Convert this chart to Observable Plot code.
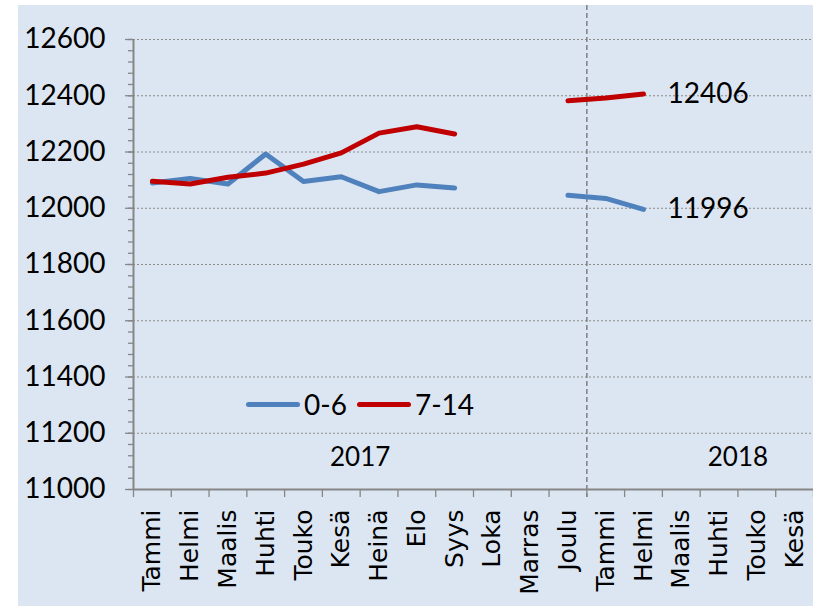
<!DOCTYPE html>
<html><head><meta charset="utf-8">
<script src="https://cdn.jsdelivr.net/npm/d3@7"></script>
<script src="https://cdn.jsdelivr.net/npm/@observablehq/plot@0.6"></script>
<style>
body{margin:0;background:#fff;}
#wrap{position:relative;width:813px;height:606px;overflow:hidden;}
#bg{position:absolute;left:18px;top:5px;width:795px;height:601px;background:#dce6f2;}
#chart{position:absolute;left:0;top:0;}
.legend{position:absolute;left:246px;top:387px;height:34px;display:flex;align-items:center;font-family:Lato,sans-serif;font-size:28px;color:#000;white-space:nowrap;}
.sw{width:54px;height:5px;border-radius:3px;display:inline-block;margin-right:4px;}
</style></head><body>
<div id="wrap"><div id="bg"></div><div id="chart"></div><div class="legend" id="legend"></div></div>
<script>
const months = ["Tammi","Helmi","Maalis","Huhti","Touko","Kesä","Heinä","Elo","Syys","Loka","Marras","Joulu","Tammi","Helmi","Maalis","Huhti","Touko","Kesä"];
const years = ["2017","2018"];
const seriesNames = ["0-6","7-14"];
const values0_6 = [12090,12106,12086,12193,12095,12112,12059,12083,12072,null,null,12046,12035,11996,null,null,null,null];
const values7_14 = [12096,12086,12110,12125,12157,12197,12267,12290,12264,null,null,12382,12392,12406,null,null,null,null];
const colors = ["#4f81bd","#c00000"];
const yTicks = d3.range(11000, 12601, 200);
const yMinor = d3.range(11000, 12601, 40);

const rows = [];
months.forEach((m, i) => {
  rows.push({i, month: m, series: seriesNames[0], value: values0_6[i]});
  rows.push({i, month: m, series: seriesNames[1], value: values7_14[i]});
});
const lastPoints = seriesNames.map(s => {
  const r = rows.filter(d => d.series === s && d.value != null);
  return r[r.length - 1];
});

const chart = Plot.plot({
  width: 813,
  height: 606,
  marginLeft: 133,
  marginRight: 0,
  marginTop: 39,
  marginBottom: 117,
  style: {background: "transparent", color: "#000", fontFamily: "Lato, sans-serif"},
  x: {type: "linear", domain: [0, months.length], label: null},
  y: {domain: [11000, 12600], label: null},
  color: {domain: seriesNames, range: colors},
  marks: [
    Plot.gridY(yTicks.slice(1), {stroke: "#8c8c8c", strokeOpacity: 1, strokeDasharray: "2,2"}),
    Plot.ruleX([12], {stroke: "#7f7f7f", strokeWidth: 1.5, strokeDasharray: "5,3", insetTop: -34, insetBottom: -8}),
    Plot.axisY(yMinor, {tickSize: 5, tickFormat: () => "", label: null, stroke: "#868686", strokeWidth: 1.3}),
    Plot.axisY(yTicks, {tickSize: 8, tickPadding: 20, label: null, stroke: "#868686", strokeWidth: 1.3, fontSize: 28, fontFamily: "Lato, sans-serif", tickFormat: d => String(d)}),
    Plot.axisX(d3.range(0, months.length + 1), {tickSize: 8, tickFormat: () => "", label: null, stroke: "#868686", strokeWidth: 1.3}),
    Plot.ruleY([11000], {stroke: "#868686", strokeWidth: 2}),
    Plot.ruleX([0], {stroke: "#868686", strokeWidth: 2}),
    Plot.text(months, {x: (d, i) => i + 0.5, frameAnchor: "bottom", rotate: -90, textAnchor: "end", lineAnchor: "middle", dy: 20, fontSize: 25, fontFamily: "DejaVu Sans", fill: "#000"}),
    Plot.text(years, {x: (d, i) => i === 0 ? 6 : 16, frameAnchor: "bottom", dy: -24, fontSize: 26, fontFamily: "Lato, sans-serif", fill: "#000"}),
    Plot.line(rows, {x: d => d.i + 0.5, y: "value", z: "series", stroke: "series", strokeWidth: 5, strokeLinecap: "round", strokeLinejoin: "round"}),
    Plot.text(lastPoints, {x: d => d.i + 0.5, y: "value", text: d => String(d.value), textAnchor: "start", dx: 24, fontSize: 28, fontFamily: "Lato, sans-serif", fill: "#000"})
  ]
});
document.getElementById("chart").appendChild(chart);

const leg = document.getElementById("legend");
seriesNames.forEach((s, k) => {
  const sw = document.createElement("span");
  sw.className = "sw";
  sw.style.background = colors[k];
  const t = document.createElement("span");
  t.textContent = s;
  t.style.marginRight = k === 0 ? "10px" : "0";
  leg.appendChild(sw);
  leg.appendChild(t);
});
</script>
</body></html>
